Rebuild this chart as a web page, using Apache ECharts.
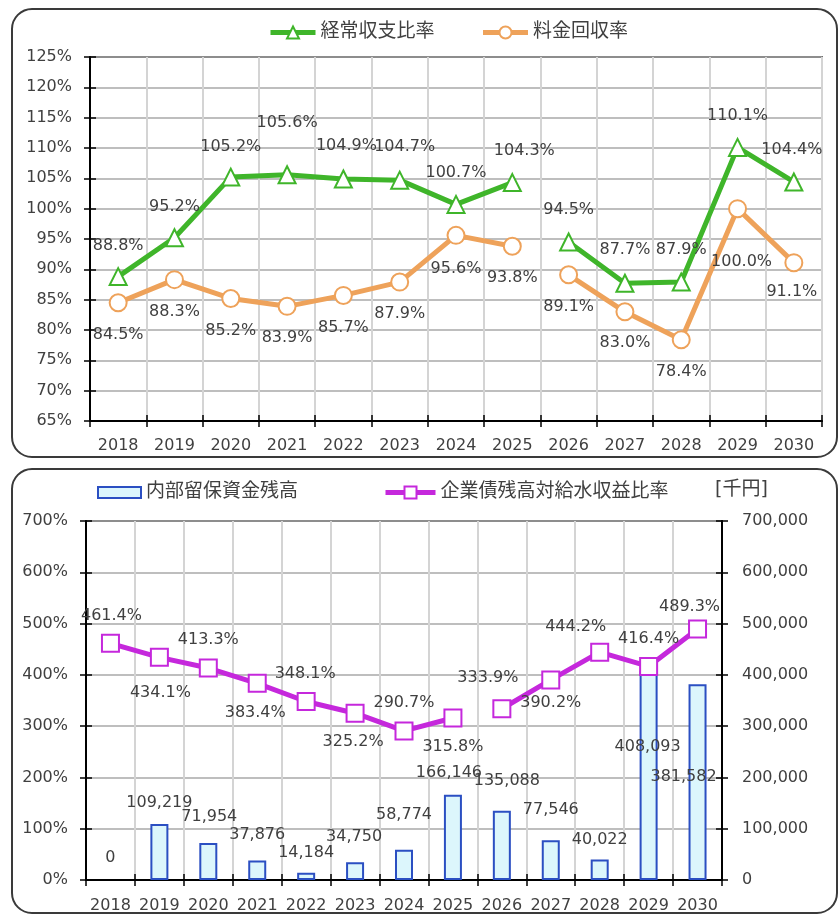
<!DOCTYPE html>
<html>
<head>
<meta charset="utf-8">
<script src="https://cdn.jsdelivr.net/npm/echarts@6/dist/echarts.min.js"></script>
<style>
  html, body { margin: 0; padding: 0; background: #fff; }
  #chart { width: 840px; height: 916px; }
</style>
</head>
<body>
<div id="chart"></div>
<script>
// Fiscal years shown on both panels
const years = ['2018','2019','2020','2021','2022','2023','2024','2025','2026','2027','2028','2029','2030'];

// Upper panel: ratios in %
const ordinaryRatio = [88.8, 95.2, 105.2, 105.6, 104.9, 104.7, 100.7, 104.3, 94.5, 87.7, 87.9, 110.1, 104.4];
const recoveryRatio = [84.5, 88.3, 85.2, 83.9, 85.7, 87.9, 95.6, 93.8, 89.1, 83.0, 78.4, 100.0, 91.1];

// Lower panel: reserve funds (thousand yen) and bond-to-revenue ratio (%)
const reserveBalance = [0, 109219, 71954, 37876, 14184, 34750, 58774, 166146, 135088, 77546, 40022, 408093, 381582];
const bondRatio = [461.4, 434.1, 413.3, 383.4, 348.1, 325.2, 290.7, 315.8, 333.9, 390.2, 444.2, 416.4, 489.3];

// Axis tick values
const upperTicks = { min: 65, max: 125, step: 5 };
const lowerPctTicks = { min: 0, max: 700, step: 100 };
const lowerAmtTicks = { min: 0, max: 700000, step: 100000 };

// Lines are broken between the actual period and the plan period
const actualLast = 7; // index of 2025

// Label placement (pixel shifts from each mark)
const ordinaryLabelShift = [[0,-31],[0,-31],[0,-30],[0,-52],[3,-33],[5,-33],[0,-32],[12,-32],[0,-32],[0,-33],[0,-32],[0,-32],[-2,-32]];
const recoveryLabelShift = [[0,32],[0,32],[0,32],[0,32],[0,32],[0,32],[0,33],[0,32],[0,32],[0,31],[0,32],[4,53],[-2,29]];
const bondLabelShift = [[1,-28],[1,35],[0,-28],[-2,29],[-1,-28],[-2,29],[0,-28],[0,29],[-14,-31],[0,23],[-24,-25],[0,-28],[-8,-22]];
const reserveLabelShift = [[0,-22],[0,-21],[1,-26],[0,-26],[0,-20],[-1,-25],[0,-35],[-4,-22],[5,-30],[0,-30],[0,-20],[-1,76],[-14,93]];

const FONT = "'DejaVu Sans', 'Noto Sans CJK JP', sans-serif";
const TEXT = '#404040';
const GREEN = '#3fb52a';
const ORANGE = '#eea25a';
const MAGENTA = '#c528dc';
const BAR_FILL = '#dcf6fc';
const BAR_EDGE = '#2b4fc2';

function segment(values, shifts, from, to) {
  return values.map((v, i) => (i >= from && i <= to)
    ? { value: v, label: { offset: shifts[i] } }
    : '-');
}

function lineSeries(name, color, symbol, values, shifts, from, to, xIdx, yIdx) {
  return {
    name, type: 'line', xAxisIndex: xIdx, yAxisIndex: yIdx,
    data: segment(values, shifts, from, to),
    symbol, symbolSize: 17,
    lineStyle: { color, width: 5 },
    itemStyle: { color, borderWidth: 2 },
    label: {
      show: true, position: 'inside',
      color: TEXT, fontSize: 16, fontFamily: FONT,
      formatter: p => p.value.toFixed(1) + '%'
    },
    z: 3
  };
}

const crossTick = { show: true, length: 6, lineStyle: { color: '#000', width: 1.5 } };
const axisLine = { show: true, lineStyle: { color: '#000', width: 2 } };
const labelStyle = { color: TEXT, fontSize: 16, fontFamily: FONT };

function catAxis(grid, margin) {
  return [
    {
      type: 'category', gridIndex: grid, data: years, boundaryGap: true,
      axisLine, axisTick: crossTick,
      axisLabel: Object.assign({ interval: 0, margin }, labelStyle),
      splitLine: { show: true, interval: 0, lineStyle: { color: '#d4d4d4', width: 2 } }
    },
    {
      type: 'category', gridIndex: grid, data: years, boundaryGap: true, position: 'bottom',
      axisLine: { show: false }, axisLabel: { show: false },
      axisTick: Object.assign({ inside: true }, crossTick), splitLine: { show: false }
    }
  ];
}

function valAxis(grid, ticks, pos, margin, fmt, split) {
  return [
    {
      type: 'value', gridIndex: grid, position: pos,
      min: ticks.min, max: ticks.max, interval: ticks.step,
      axisLine, axisTick: crossTick,
      axisLabel: Object.assign({ margin, formatter: fmt }, labelStyle),
      splitLine: { show: split, lineStyle: { color: '#a8a8a8', width: 1.5 } }
    },
    {
      type: 'value', gridIndex: grid, position: pos,
      min: ticks.min, max: ticks.max, interval: ticks.step,
      axisLine: { show: false }, axisLabel: { show: false },
      axisTick: Object.assign({ inside: true }, crossTick), splitLine: { show: false }
    }
  ];
}

const xAxes = [...catAxis(0, 17), ...catAxis(1, 18)];
const yAxes = [
  ...valAxis(0, upperTicks, 'left', 18, v => v + '%', true),        // 0,1
  ...valAxis(1, lowerPctTicks, 'left', 18, v => v + '%', true),     // 2,3
  ...valAxis(1, lowerAmtTicks, 'right', 20, v => v.toLocaleString('en-US'), false) // 4,5
];

const series = [
  lineSeries('経常収支比率', GREEN, 'emptyTriangle', ordinaryRatio, ordinaryLabelShift, 0, actualLast, 0, 0),
  lineSeries('経常収支比率', GREEN, 'emptyTriangle', ordinaryRatio, ordinaryLabelShift, actualLast + 1, years.length - 1, 0, 0),
  lineSeries('料金回収率', ORANGE, 'emptyCircle', recoveryRatio, recoveryLabelShift, 0, actualLast, 0, 0),
  lineSeries('料金回収率', ORANGE, 'emptyCircle', recoveryRatio, recoveryLabelShift, actualLast + 1, years.length - 1, 0, 0),
  {
    name: '内部留保資金残高', type: 'bar', xAxisIndex: 2, yAxisIndex: 4,
    barWidth: 18,
    data: reserveBalance.map((v, i) => ({
      value: v,
      // an empty balance has no visible column, only its label
      itemStyle: v === 0 ? { borderWidth: 0, color: 'transparent' } : undefined,
      label: { offset: [reserveLabelShift[i][0], reserveLabelShift[i][1] + 9] }
    })),
    itemStyle: { color: BAR_FILL, borderColor: BAR_EDGE, borderWidth: 2 },
    label: {
      show: true, position: 'top', distance: 0, lineHeight: 18,
      color: TEXT, fontSize: 16, fontFamily: FONT,
      formatter: p => p.value.toLocaleString('en-US')
    },
    z: 2
  },
  lineSeries('企業債残高対給水収益比率', MAGENTA, 'emptyRect', bondRatio, bondLabelShift, 0, actualLast, 2, 2),
  lineSeries('企業債残高対給水収益比率', MAGENTA, 'emptyRect', bondRatio, bondLabelShift, actualLast + 1, years.length - 1, 2, 2)
];

const legendText = { color: TEXT, fontSize: 19, fontFamily: FONT };

const option = {
  animation: false,
  backgroundColor: '#fff',
  grid: [
    { left: 90, right: 18, top: 57, bottom: 495, show: true, borderColor: '#000', borderWidth: 1.5, backgroundColor: 'transparent' },
    { left: 86, right: 118, top: 521, bottom: 36, show: true, borderColor: '#000', borderWidth: 1.5, backgroundColor: 'transparent' }
  ],
  legend: [
    { data: ['経常収支比率', '料金回収率'], left: 263, top: 18, itemWidth: 45, itemHeight: 15, itemGap: 46,
      lineStyle: { width: 5 }, textStyle: legendText },
    { data: [{ name: '内部留保資金残高', itemStyle: { color: BAR_FILL, borderColor: BAR_EDGE, borderWidth: 2 } }],
      left: 92, top: 478, itemWidth: 43, itemHeight: 11, icon: 'rect', textStyle: legendText },
    { data: ['企業債残高対給水収益比率'], left: 378, top: 478, itemWidth: 50, itemHeight: 15, itemGap: 3,
      lineStyle: { width: 5 }, textStyle: legendText }
  ],
  xAxis: xAxes,
  yAxis: yAxes,
  series,
  graphic: [
    { type: 'rect', shape: { x: 12, y: 9, width: 825, height: 448, r: 20 }, style: { fill: 'none', stroke: '#3a3a3a', lineWidth: 2 }, silent: true },
    { type: 'rect', shape: { x: 12, y: 469, width: 825, height: 444, r: 20 }, style: { fill: 'none', stroke: '#3a3a3a', lineWidth: 2 }, silent: true },
    { type: 'text', x: 715, y: 490, style: { text: '[千円]', fill: TEXT, fontSize: 19, fontFamily: FONT, textVerticalAlign: 'middle' }, silent: true }
  ]
};

echarts.init(document.getElementById('chart'), null, { renderer: 'canvas' }).setOption(option);
</script>
</body>
</html>
